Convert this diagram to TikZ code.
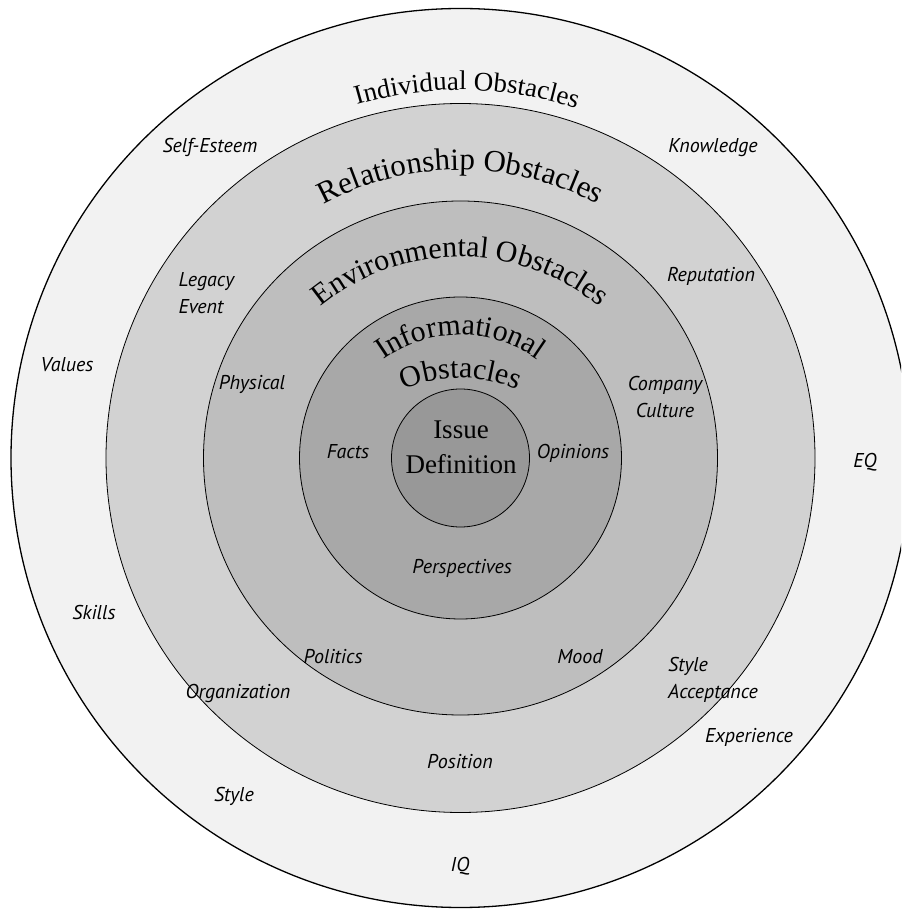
\documentclass[tikz,border=0pt]{standalone}
\usepackage{fontspec}
\newfontfamily\labfont{PT Sans}
\newfontfamily\titlefont{Liberation Serif}
\usetikzlibrary{decorations.text}
\definecolor{ringA}{HTML}{F2F2F2}
\definecolor{ringB}{HTML}{D2D2D2}
\definecolor{ringC}{HTML}{BEBEBE}
\definecolor{ringD}{HTML}{A8A8A8}
\definecolor{ringE}{HTML}{989898}
\tikzset{
  lab/.style={font=\labfont\itshape\fontsize{20}{27}\selectfont, align=center, inner sep=0pt},
  labl/.style={lab, align=left, anchor=west},
  ringline/.style={draw=black, line width=0.8pt},
  arctext/.style={decorate, decoration={text along path, text align=center, text={#1}}}
}
\begin{document}
\begin{tikzpicture}
\useasboundingbox (-460.5pt,-451pt) rectangle (440.5pt,458pt);
\clip (-460.5pt,-451pt) rectangle (440.5pt,458pt);
% rings
\filldraw[fill=ringA, draw=black, line width=1.3pt] (0pt,0pt) circle (449.5pt);
\filldraw[fill=ringB, ringline] (0pt,0pt) circle (354.5pt);
\filldraw[fill=ringC, ringline] (0pt,0pt) circle (257pt);
\filldraw[fill=ringD, ringline] (0pt,0pt) circle (161pt);
\filldraw[fill=ringE, ringline] (0pt,0pt) circle (69pt);
% curved titles
\path[arctext={|\titlefont\fontsize{27}{27}\selectfont|Individual Obstacles}]
  (0pt,0pt) ++(149:368pt) arc[start angle=149, end angle=29, radius=368pt];
\path[arctext={|\titlefont\fontsize{31}{31}\selectfont|Relationship Obstacles}]
  (0pt,0pt) ++(160:288pt) arc[start angle=160, end angle=20, radius=288pt];
\path[arctext={|\titlefont\fontsize{30}{30}\selectfont|Environmental Obstacles}]
  (0pt,-19pt) ++(170:220pt) arc[start angle=170, end angle=10, radius=220pt];
\path[arctext={|\titlefont\fontsize{30}{30}\selectfont|Informational}]
  (0pt,-9pt) ++(175:132pt) arc[start angle=175, end angle=5, radius=132pt];
\path[arctext={|\titlefont\fontsize{30}{30}\selectfont|Obstacles}]
  (0pt,-61pt) ++(165:141pt) arc[start angle=165, end angle=15, radius=141pt];
% center
\node[font=\titlefont\fontsize{27}{35}\selectfont, align=center, inner sep=0pt] (issue) at (0.5pt,11pt) {Issue\\Definition};
% individual ring labels
\node[lab] (selfesteem) at (-250.5pt,311pt) {Self-Esteem};
\node[lab] (knowledge) at (252.5pt,310pt) {Knowledge};
\node[lab] (values) at (-393.5pt,93pt) {Values};
\node[lab] (eq) at (404.5pt,-4pt) {EQ};
\node[lab] (skills) at (-366.5pt,-154pt) {Skills};
\node[lab] (experience) at (288.5pt,-279pt) {Experience};
\node[lab] (style) at (-226.5pt,-338pt) {Style};
\node[lab] (iq) at (-0.5pt,-408pt) {IQ};
% relationship ring labels
\node[labl] (legacy) at (-282pt,164.5pt) {Legacy\\Event};
\node[lab] (reputation) at (250.5pt,182pt) {Reputation};
\node[lab] (company) at (204.5pt,61pt) {Company\\Culture};
\node[lab] (organization) at (-222.5pt,-235pt) {Organization};
\node[labl] (styleacc) at (207.5pt,-222pt) {Style\\Acceptance};
\node[lab] (position) at (-0.5pt,-304pt) {Position};
% environmental ring labels
\node[lab] (physical) at (-208.5pt,74pt) {Physical};
\node[lab] (politics) at (-127.5pt,-199pt) {Politics};
\node[lab] (mood) at (119.5pt,-199pt) {Mood};
% informational ring labels
\node[lab] (facts) at (-112.5pt,6pt) {Facts};
\node[lab] (opinions) at (112.5pt,5pt) {Opinions};
\node[lab] (perspectives) at (1.5pt,-110pt) {Perspectives};
\end{tikzpicture}
\end{document}
